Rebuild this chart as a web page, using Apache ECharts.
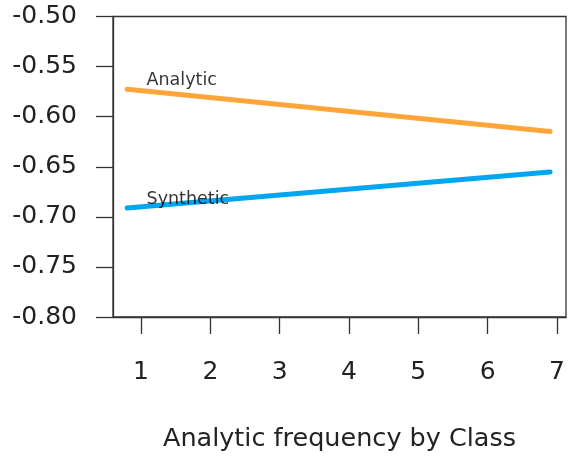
<!DOCTYPE html>
<html>
<head>
<meta charset="utf-8">
<script src="https://cdn.jsdelivr.net/npm/echarts@6/dist/echarts.min.js"></script>
<style>
  html, body { margin: 0; padding: 0; background: #fff; }
  #chart { width: 569px; height: 457px; }
</style>
</head>
<body>
<div id="chart"></div>
<script>
// Fitted lines: value against analytic frequency class
const xEnds = [0.8, 6.9];
const analyticValues = [-0.5726, -0.6148];
const syntheticValues = [-0.6912, -0.6553];

// In-plot line labels
const lineNames = ['Analytic', 'Synthetic'];
const labelX = [1.08, 1.08];
const labelY = [-0.5636, -0.6829];

// Axis ticks
const xTicks = [1, 2, 3, 4, 5, 6, 7];
const yTicks = [-0.80, -0.75, -0.70, -0.65, -0.60, -0.55, -0.50];

const FONT = 'DejaVu Sans';
const INK = '#222';

const chart = echarts.init(document.getElementById('chart'), null, { renderer: 'canvas' });

chart.setOption({
  animation: false,
  backgroundColor: '#fff',
  grid: {
    left: 113, right: 3, top: 16.5, bottom: 139.5,
    show: true, borderColor: '#333', borderWidth: 1.3, backgroundColor: 'transparent'
  },
  xAxis: {
    type: 'value',
    min: 0.596, max: 7.13,
    name: 'Analytic frequency by Class',
    nameLocation: 'middle',
    nameGap: 109,
    nameTextStyle: { fontFamily: FONT, fontSize: 25.5, color: INK },
    axisLine: { show: true, lineStyle: { color: '#333', width: 1.3 } },
    axisTick: { show: true, length: 17, customValues: xTicks, lineStyle: { color: '#333', width: 1.3 } },
    axisLabel: {
      customValues: xTicks,
      margin: 43,
      fontFamily: FONT, fontSize: 25, color: INK
    },
    splitLine: { show: false }
  },
  yAxis: {
    type: 'value',
    min: -0.80, max: -0.50,
    axisLine: { show: true, lineStyle: { color: '#333', width: 1.3 } },
    axisTick: { show: true, length: 17, customValues: yTicks, lineStyle: { color: '#333', width: 1.3 } },
    axisLabel: {
      customValues: yTicks,
      margin: 36,
      fontFamily: FONT, fontSize: 25, color: INK,
      formatter: v => v.toFixed(2)
    },
    splitLine: { show: false }
  },
  series: [
    {
      name: 'Analytic',
      type: 'line',
      data: xEnds.map((x, i) => [x, analyticValues[i]]),
      symbol: 'none',
      lineStyle: { color: '#FFA53A', width: 5, cap: 'round' },
      z: 3
    },
    {
      name: 'Synthetic',
      type: 'line',
      data: xEnds.map((x, i) => [x, syntheticValues[i]]),
      symbol: 'none',
      lineStyle: { color: '#00A6F0', width: 5, cap: 'round' },
      z: 3
    },
    {
      name: 'labels',
      type: 'scatter',
      symbolSize: 0,
      data: lineNames.map((n, i) => ({ name: n, value: [labelX[i], labelY[i]] })),
      label: {
        show: true,
        position: 'inside',
        align: 'left',
        verticalAlign: 'middle',
        formatter: p => p.name,
        fontFamily: FONT, fontSize: 17.5, color: '#000'
      },
      z: 5
    }
  ]
});
</script>
</body>
</html>
